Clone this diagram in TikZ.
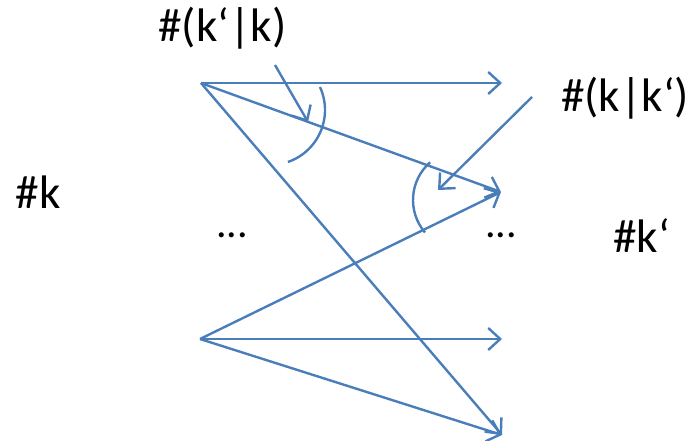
\documentclass[tikz,border=0pt]{standalone}
\usepackage{fontspec}
\setmainfont{Carlito}
\usetikzlibrary{arrows.meta}
\definecolor{lnblue}{RGB}{74,126,187}
\tikzset{
  conn/.style={draw=lnblue, line width=2.4pt, -{Straight Barb[length=12pt,width=22pt,line width=2.4pt]}},
  arcline/.style={draw=lnblue, line width=2.4pt},
  lbl/.style={font=\fontsize{47}{56}\selectfont, inner sep=0pt, anchor=base},
  dots/.style={font=\fontsize{42}{50}\selectfont, inner sep=0pt, anchor=base}
}
\begin{document}
\begin{tikzpicture}[x=1pt,y=1pt]
\useasboundingbox (0,0) rectangle (695,440);
\coordinate (L1) at (201,357);
\coordinate (L2) at (200,101);
\coordinate (R1) at (502,357);
\coordinate (R2) at (501,248);
\coordinate (R3) at (502,101);
\coordinate (R4) at (502,5);
\coordinate (a1) at (275,375);
\coordinate (a2) at (308,318);
\coordinate (b1) at (532,343);
\coordinate (b2) at (438,250);
\node[lbl] (t1) at (222.5,398) {\#(k‘|k)};
\node[lbl] (t2) at (625,328) {\#(k|k‘)};
\node[lbl] (t3) at (38,232) {\#k};
\node[lbl] (t4) at (641.5,188) {\#k‘};
\node[dots] (d1) at (232,203) {...};
\node[dots] (d2) at (501,203) {...};
\draw[conn] (L1) -- (R1);
\draw[conn] (L1) -- (R2);
\draw[conn] (L1) -- (R4);
\draw[conn] (L2) -- (R2);
\draw[conn] (L2) -- (R3);
\draw[conn] (L2) -- (R4);
\draw[conn] (a1) -- (a2);
\draw[conn] (b1) -- (b2);
\draw[arcline] (270,330) ++(24.7:55) arc[start angle=24.7, end angle=-71, radius=55];
\draw[arcline] (463,240) ++(131:50) arc[start angle=131, end angle=220.5, radius=50];
\end{tikzpicture}
\end{document}
